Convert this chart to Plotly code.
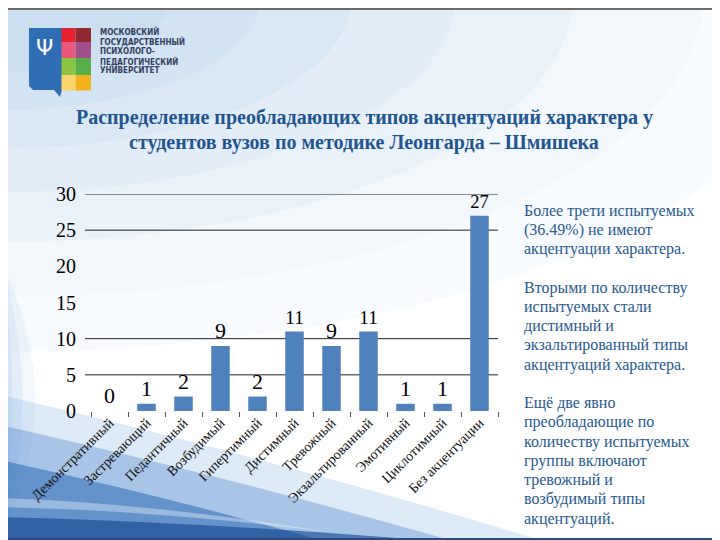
import plotly.graph_objects as go

categories = ["Демонстративный", "Застревающий", "Педантичный", "Возбудимый",
              "Гипертимный", "Дистимный", "Тревожный", "Экзальтированный",
              "Эмотивный", "Циклотимный", "Без акцентуации"]
values = [0, 1, 2, 9, 2, 11, 9, 11, 1, 1, 27]
y_ticks = [0, 5, 10, 15, 20, 25, 30]
grid_values = [5, 10, 25, 30]

title_lines = ["Распределение преобладающих типов акцентуаций характера у",
               "студентов вузов по методике Леонгарда – Шмишека"]
side_lines = ["Более трети испытуемых", "(36.49%) не имеют", "акцентуации характера.", "",
              "Вторыми по количеству", "испытуемых стали", "дистимный и",
              "экзальтированный типы", "акцентуаций характера.", "",
              "Ещё две явно", "преобладающие по", "количеству испытуемых",
              "группы включают", "тревожный и", "возбудимый типы", "акцентуаций."]
logo_lines = ["МОСКОВСКИЙ", "ГОСУДАРСТВЕННЫЙ", "ПСИХОЛОГО-", "ПЕДАГОГИЧЕСКИЙ", "УНИВЕРСИТЕТ"]

SERIF = "Liberation Serif, Times New Roman, Tinos, DejaVu Serif, serif"

# screen coordinates (page has an 8px body margin)
OFF = 8
SW, SH = 720, 540
L, R, T, B = 91, 222, 194, 129
PW, PH = SW - L - R, SH - T - B


def px(x):
    return (x - L) / PW


def py(y):
    return (SH - B - y) / PH


def path(points, close=True):
    s = "M " + " L ".join(f"{px(x):.4f},{py(y):.4f}" for x, y in points)
    return s + (" Z" if close else "")


def qpath(cmds):
    out = []
    for c in cmds:
        if c[0] in "ML":
            out.append(f"{c[0]} {px(c[1]):.4f},{py(c[2]):.4f}")
        elif c[0] == "Q":
            out.append(f"Q {px(c[1]):.4f},{py(c[2]):.4f} {px(c[3]):.4f},{py(c[4]):.4f}")
        elif c[0] == "Z":
            out.append("Z")
    return " ".join(out)


fig = go.Figure()
fig.add_trace(go.Bar(
    x=categories, y=values, marker_color="#4F81BD", marker_line_width=0,
    text=[str(v) for v in values], textposition="outside",
    textfont=dict(family=SERIF, size=22, color="black"),
    cliponaxis=False, width=0.5,
))

shapes = []
# top-left soft blue glow
for r, a in [(640, 0.05), (540, 0.05), (440, 0.06), (350, 0.06), (270, 0.07), (200, 0.07), (130, 0.07)]:
    shapes.append(dict(type="circle", xref="paper", yref="paper",
                       x0=px(-r * 1.3), x1=px(r * 1.3), y0=py(r * 0.55), y1=py(-r * 0.55),
                       fillcolor=f"rgba(120,170,225,{a})", line_width=0, layer="below"))
# left side light blue fade
for k, a in [(70, 0.10), (45, 0.12), (25, 0.14)]:
    shapes.append(dict(type="path", xref="paper", yref="paper", layer="below", line_width=0,
                       fillcolor=f"rgba(130,175,225,{a})",
                       path=qpath([("M", 0, 260), ("Q", k, 400, 0, 540), ("Z",)])))
# bottom-left swooshes
shapes.append(dict(type="path", xref="paper", yref="paper", layer="below", line_width=0,
                   fillcolor="rgba(120,170,225,0.25)",
                   path=qpath([("M", 0, 395), ("Q", 260, 455, 540, 540), ("L", 0, 540), ("Z",)])))
shapes.append(dict(type="path", xref="paper", yref="paper", layer="below", line_width=0,
                   fillcolor="rgba(70,130,200,0.35)",
                   path=qpath([("M", 0, 425), ("Q", 220, 475, 450, 540), ("L", 0, 540), ("Z",)])))
shapes.append(dict(type="path", xref="paper", yref="paper", layer="below", line_width=0,
                   fillcolor="rgba(35,95,175,0.5)",
                   path=qpath([("M", 0, 460), ("Q", 160, 495, 320, 540), ("L", 0, 540), ("Z",)])))
# white streak
shapes.append(dict(type="path", xref="paper", yref="paper", layer="below", line_width=0,
                   fillcolor="rgba(255,255,255,0.35)",
                   path=qpath([("M", 0, 498), ("Q", 150, 503, 330, 532),
                               ("Q", 150, 510, 0, 507), ("Z",)])))
# dark bottom band
shapes.append(dict(type="path", xref="paper", yref="paper", layer="below", line_width=0,
                   fillcolor="rgba(15,65,140,0.6)",
                   path=qpath([("M", 0, 517), ("Q", 200, 522, 420, 540), ("L", 0, 540), ("Z",)])))

# gridlines
for g in grid_values:
    shapes.append(dict(type="line", xref="paper", yref="y", x0=px(85), x1=1, y0=g, y1=g,
                       line=dict(color="#222222", width=1), layer="below"))

# logo: shield
shapes.append(dict(type="path", xref="paper", yref="paper", layer="above", line_width=0,
                   fillcolor="#2F6DB5",
                   path=path([(29, 28), (62, 28), (62, 90), (60, 97), (54, 90),
                              (33, 90), (29, 86)])))
logo_cols = [(61.5, 75.5), (75.5, 91)]
logo_rows = [(28, 42), (42, 58), (58, 75), (75, 90.5)]
logo_colors = [["#E52330", "#8E2A30"], ["#E9577A", "#A04F8C"],
               ["#8CC43F", "#58AD4B"], ["#FAD56E", "#F6B21C"]]
for ri, (y0, y1) in enumerate(logo_rows):
    for ci, (x0, x1) in enumerate(logo_cols):
        shapes.append(dict(type="rect", xref="paper", yref="paper", layer="above",
                           x0=px(x0), x1=px(x1), y0=py(y1), y1=py(y0), line_width=0,
                           fillcolor=logo_colors[ri][ci]))
# frame
shapes.append(dict(type="line", xref="paper", yref="paper", layer="above",
                   x0=px(719), x1=px(719), y0=py(540), y1=py(8),
                   line=dict(color="#6b6b6b", width=2)))
shapes.append(dict(type="line", xref="paper", yref="paper", layer="above",
                   x0=px(8), x1=px(720), y0=py(9), y1=py(9),
                   line=dict(color="#6b6b6b", width=2)))
shapes.append(dict(type="line", xref="paper", yref="paper", layer="above",
                   x0=px(8), x1=px(720), y0=py(539), y1=py(539),
                   line=dict(color="#2a4a7a", width=2)))

annotations = []
for i, line in enumerate(title_lines):
    annotations.append(dict(text="<b>" + line + "</b>", x=px(364), y=py(117 + 25 * i),
                            xref="paper", yref="paper", showarrow=False,
                            xanchor="center", yanchor="middle",
                            font=dict(family=SERIF, size=20, color="#1F5690")))
for i, line in enumerate(side_lines):
    if not line:
        continue
    annotations.append(dict(text=line, x=px(522), y=py(210.5 + 19.25 * i),
                            xref="paper", yref="paper", showarrow=False,
                            xanchor="left", yanchor="middle",
                            font=dict(family=SERIF, size=16, color="#275A8E")))
for i, line in enumerate(logo_lines):
    annotations.append(dict(text="<b>" + line + "</b>", x=px(98), y=py(32 + 9.75 * i),
                            xref="paper", yref="paper", showarrow=False,
                            xanchor="left", yanchor="middle",
                            font=dict(family="DejaVu Sans Condensed, DejaVu Sans", size=8,
                                      color="#33405F")))
annotations.append(dict(text="Ψ", x=px(44), y=py(47), xref="paper", yref="paper",
                        showarrow=False, xanchor="center", yanchor="middle",
                        font=dict(family="DejaVu Sans", size=22, color="white")))

fig.update_layout(
    width=SW - OFF, height=SH - OFF,
    margin=dict(l=L - OFF, r=R, t=T - OFF, b=B, autoexpand=False),
    paper_bgcolor="white", plot_bgcolor="rgba(0,0,0,0)",
    showlegend=False, shapes=shapes, annotations=annotations,
    bargap=0.5,
)
fig.update_xaxes(
    type="category", tickangle=-45, tickson="boundaries", ticks="outside", ticklen=5,
    tickcolor="#555555", showline=False, showgrid=False, automargin=False,
    tickfont=dict(family=SERIF, size=14, color="#111111"),
)
fig.update_yaxes(
    range=[0, 30], tickvals=y_ticks, showgrid=False, zeroline=False, showline=False,
    ticks="", automargin=False, ticklabelstandoff=14,
    tickfont=dict(family=SERIF, size=20, color="black"),
)

fig.write_html("out.html")
